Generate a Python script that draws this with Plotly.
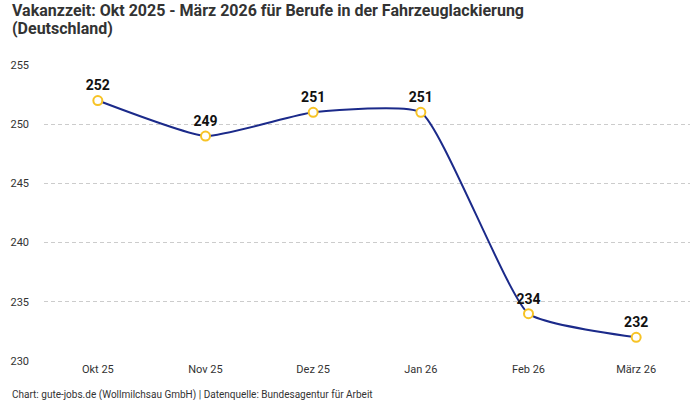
import plotly.graph_objects as go

months = ["Okt 25", "Nov 25", "Dez 25", "Jan 26", "Feb 26", "März 26"]
vakanzzeit = [252, 249, 251, 251, 234, 232]
y_ticks = [230, 235, 240, 245, 250, 255]
title_lines = ["Vakanzzeit: Okt 2025 - März 2026 für Berufe in der Fahrzeuglackierung", "(Deutschland)"]
source = "Chart: gute-jobs.de (Wollmilchsau GmbH) | Datenquelle: Bundesagentur für Arbeit"

fig = go.Figure()
fig.add_trace(go.Scatter(
    x=months, y=vakanzzeit,
    mode="lines+markers+text",
    line=dict(color="#1b2a8a", width=2, shape="spline", smoothing=0.45),
    marker=dict(size=9, color="white", line=dict(color="#f7c325", width=2)),
    text=[str(v) for v in vakanzzeit],
    textposition="top center",
    textfont=dict(family="Roboto", size=14, color="#111111", weight="bold"),
    cliponaxis=False,
    hoverinfo="skip",
))

annotations = []
for i, line in enumerate(title_lines):
    annotations.append(dict(
        text="<b>" + line + "</b>",
        xref="paper", yref="paper", x=-34/646, y=1 + (54 - 18 * i)/296,
        xanchor="left", yanchor="middle", align="left", showarrow=False,
        font=dict(family="Roboto", size=16, color="#333333"),
    ))
annotations.append(dict(
    text=source,
    xref="paper", yref="paper", x=-34/646, y=-26/296, xanchor="left", yanchor="top",
    showarrow=False, font=dict(family="Roboto", size=10, color="#333333"),
))

fig.update_layout(
    width=700, height=400,
    margin=dict(l=44, r=10, t=65, b=39, autoexpand=False),
    paper_bgcolor="white", plot_bgcolor="white",
    showlegend=False,
    font=dict(family="Roboto", size=11, color="#333333"),
    xaxis=dict(
        type="category", range=[-0.5, 5.5],
        showgrid=False, zeroline=False, showline=False,
        ticks="", tickfont=dict(size=11, color="#333333"),
        automargin=False,
    ),
    yaxis=dict(
        range=[230, 255], tickvals=y_ticks,
        showgrid=True, gridcolor="#cccccc", griddash="4px,3px", gridwidth=1,
        zeroline=False, showline=False, ticks="",
        tickfont=dict(size=11, color="#333333"),
        ticklabelstandoff=14, automargin=False,
    ),
    annotations=annotations,
)

fig.write_html("out.html", config={"displayModeBar": False},
               post_script="document.body.style.margin='0';document.body.style.overflow='hidden';")
